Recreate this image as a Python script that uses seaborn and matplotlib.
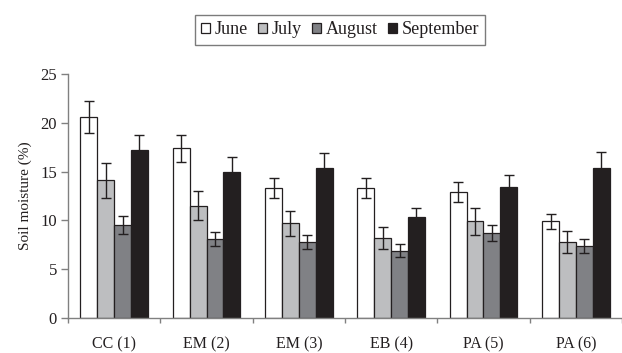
import numpy as np
import pandas as pd
import matplotlib
matplotlib.use("Agg")
import matplotlib.pyplot as plt
import seaborn as sns

sites = ["CC (1)", "EM (2)", "EM (3)", "EB (4)", "PA (5)", "PA (6)"]
months = ["June", "July", "August", "September"]

june = [20.6, 17.4, 13.3, 13.3, 12.9, 9.9]
july = [14.1, 11.5, 9.7, 8.2, 9.9, 7.8]
august = [9.5, 8.1, 7.8, 6.9, 8.7, 7.4]
september = [17.2, 15.0, 15.4, 10.3, 13.4, 15.4]

june_err = [1.6, 1.4, 1.0, 1.0, 1.0, 0.8]
july_err = [1.8, 1.5, 1.3, 1.1, 1.4, 1.1]
august_err = [0.9, 0.7, 0.7, 0.7, 0.8, 0.7]
september_err = [1.6, 1.5, 1.5, 1.0, 1.3, 1.6]

colors = ["#ffffff", "#bdbec0", "#808185", "#231f20"]

values = [june, july, august, september]
errors = [june_err, july_err, august_err, september_err]

df = pd.DataFrame({
    "site": np.tile(sites, len(months)),
    "month": np.repeat(months, len(sites)),
    "moisture": np.concatenate(values),
})

sns.set_style("ticks")
plt.rcParams["font.family"] = ["Liberation Serif", "DejaVu Serif"]

fig = plt.figure(figsize=(6.22, 3.53), dpi=100)
ax = fig.add_axes([68 / 622, 1 - 318 / 353, (622 - 68) / 622, (318 - 74) / 353])

sns.barplot(data=df, x="site", y="moisture", hue="month", order=sites,
            hue_order=months, palette=colors, errorbar=None, width=0.73,
            edgecolor="#231f20", linewidth=0.9, saturation=1, ax=ax)

# error bars on top of each bar, one container per month
for cont, err in zip(ax.containers, errors):
    xs = [p.get_x() + p.get_width() / 2 for p in cont.patches]
    hs = [p.get_height() for p in cont.patches]
    ax.errorbar(xs, hs, yerr=err, fmt="none", ecolor="#231f20",
                elinewidth=1.0, capsize=3.9, capthick=1.0, zorder=5)

ax.set_xlim(-0.5, 5.5)
ax.set_ylim(0, 25)
ax.set_yticks([0, 5, 10, 15, 20, 25])
ax.set_xticks(np.arange(-0.5, 6, 1.0))
ax.set_xticklabels([])
ax.set_xticks(np.arange(6), minor=True)
ax.set_xticklabels(sites, minor=True)
ax.tick_params(axis="x", which="minor", length=0, pad=13, labelsize=11.5,
               labelcolor="#231f20")
ax.tick_params(axis="x", which="major", length=3.6, color="#808080", width=1)
ax.tick_params(axis="y", length=5, color="#808080", width=1, labelsize=12,
               pad=3, labelcolor="#231f20")
ax.set_xlabel("")
ax.set_ylabel("Soil moisture (%)", fontsize=11, labelpad=6, color="#231f20")
sns.despine(ax=ax)
for s in ("left", "bottom"):
    ax.spines[s].set_color("#808080")
    ax.spines[s].set_linewidth(1.0)

handles, labels = ax.get_legend_handles_labels()
ax.legend_.remove()
leg = fig.legend(handles, labels, loc="center", bbox_to_anchor=(340 / 622, 1 - 30 / 353),
                 ncol=4, frameon=True, fancybox=False, edgecolor="#5a5a5a",
                 fontsize=13, handlelength=0.5, handleheight=0.5,
                 handletextpad=0.26, columnspacing=0.55, borderpad=0.35,
                 borderaxespad=0)
leg.get_frame().set_linewidth(1.0)
for t in leg.get_texts():
    t.set_color("#231f20")

fig.savefig("out.png", dpi=100)
